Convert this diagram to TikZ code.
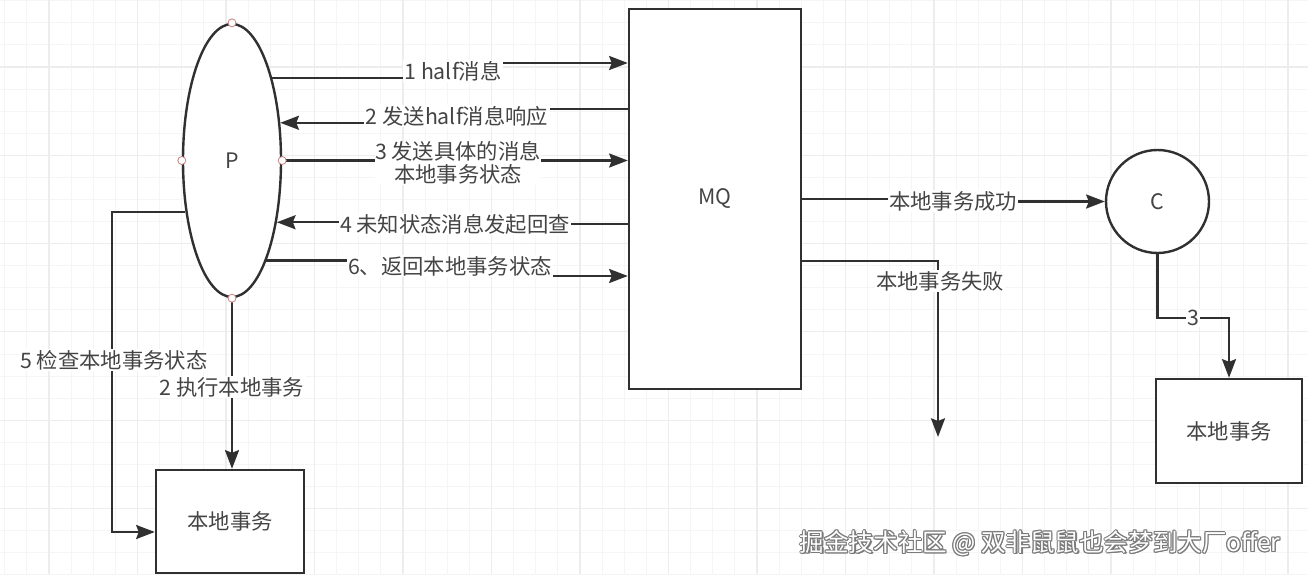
\documentclass[tikz,border=0pt]{standalone}
\usepackage{fontspec}
\setmainfont{Noto Sans CJK SC}
\usetikzlibrary{arrows.meta,shapes.geometric}
\definecolor{ln}{HTML}{303030}
\definecolor{tx}{HTML}{444444}
\definecolor{gmin}{HTML}{F5F5F5}
\definecolor{gmaj}{HTML}{EDEDED}
\definecolor{cpt}{HTML}{C98080}
\definecolor{wm}{HTML}{7A7A7A}
\begin{document}
\begin{tikzpicture}[x=0.75pt,y=-0.75pt,
  conn/.style={draw=ln, line width=1.8pt, -{Stealth[length=14pt,width=10.5pt,inset=2pt]}},
  lbl/.style={fill=white, text=tx, font=\fontsize{16}{17.5}\selectfont, inner sep=1pt, align=center},
  shp/.style={draw=ln, line width=1.8pt, fill=white, text=tx, font=\fontsize{16}{17.5}\selectfont, inner sep=0pt},
  cdot/.style={circle, draw=cpt, fill=white, line width=0.6pt, minimum size=6pt, inner sep=0pt},
  wmtext/.style={font=\fontsize{18.4}{20}\selectfont, inner sep=0pt}]
\useasboundingbox (0,0) rectangle (1308,574);
\fill[white] (0,0) rectangle (1308,574);
% grid
\foreach \i in {0,...,59} {
  \draw[gmin, line width=0.6pt] ({4.75+22.125*\i},0) -- ({4.75+22.125*\i},574);
}
\foreach \i in {0,...,26} {
  \draw[gmin, line width=0.6pt] (0,{0.7+22.075*\i}) -- (1308,{0.7+22.075*\i});
}
\foreach \i in {0,...,14} {
  \draw[gmaj, line width=0.8pt] ({49+88.5*\i},0) -- ({49+88.5*\i},574);
}
\foreach \i in {0,...,6} {
  \draw[gmaj, line width=0.8pt] (0,{67+88.3*\i}) -- (1308,{67+88.3*\i});
}
% nodes
\node[shp, ellipse, minimum width=73.5pt, minimum height=204.75pt] (P) at (232,160.5) {P};
\node[shp, rectangle, minimum width=129pt, minimum height=285pt] (MQ) at (715,199) {MQ};
\node[shp, circle, minimum size=77.25pt] (C) at (1157.5,201.5) {C};
\node[shp, rectangle, minimum width=111pt, minimum height=77.25pt] (LB) at (230,521.5) {本地事务};
\node[shp, rectangle, minimum width=109.5pt, minimum height=78pt] (RB) at (1229,431) {本地事务};
% connectors
\draw[conn] (P.64) -| (453,63) -- (MQ.west |- 0,63);
\node[lbl] (l1) at (453,71) {1 half消息};
\draw[conn] (MQ.west |- 0,109) -- (457,109) |- (P.38);
\node[lbl] (l2) at (457,116) {2 发送half消息响应};
\draw[conn] (P.east) -- (MQ.west |- P.east);
\node[lbl, inner sep=0pt] (l3) at (458,163) {3 发送具体的消息\\本地事务状态};
\draw[conn] (MQ.west |- 0,224) -- (455,224) |- (P.-54);
\node[lbl] (l4) at (455,224) {4 未知状态消息发起回查};
\draw[conn] (P.-71) -| (450,276) -- (MQ.west |- 0,276);
\node[lbl] (l6) at (450,266) {6、返回本地事务状态};
\draw[conn] (P.-132) -| (112,532) -- (LB.west |- 0,532);
\node[lbl] (l5) at (114,360) {5 检查本地事务状态};
\draw[conn] (P.south) -- (LB.north -| P.south);
\node[lbl] (l7) at (232,387) {2 执行本地事务};
\draw[conn] (MQ.east |- 0,199) -- (953,199) |- (C.west);
\node[lbl] (l8) at (953,201) {本地事务成功};
\draw[conn] (MQ.east |- 0,261) -| (938,437);
\node[lbl] (l9) at (940,281) {本地事务失败};
\draw[conn] (C.south) -- (C.south |- 0,318) -| (RB.north);
\node[lbl] (l10) at (1193,318) {3};
% connection points
\foreach \a in {north,south,east,west} {
  \node[cdot] at (P.\a) {};
}
% watermark
\foreach \dx/\dy in {-1/0,1/0,0/-1,0/1,-0.8/-0.8,0.8/0.8,-0.8/0.8,0.8/-0.8,1.2/1.2} {
  \node[wmtext, text=wm] at ({1040+\dx},{543+\dy}) {掘金技术社区 @ 双非鼠鼠也会梦到大厂offer};
}
\node[wmtext, text=white] (wm) at (1040,543) {掘金技术社区 @ 双非鼠鼠也会梦到大厂offer};
\end{tikzpicture}
\end{document}
